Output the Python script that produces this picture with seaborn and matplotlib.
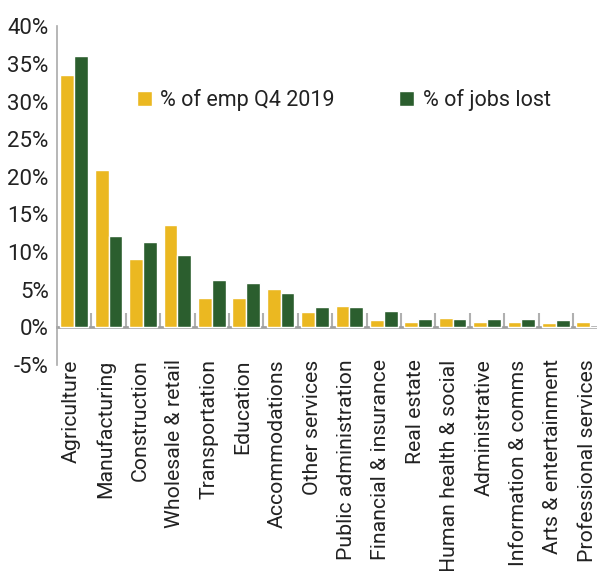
import matplotlib
matplotlib.use("Agg")
import matplotlib.pyplot as plt
import matplotlib.transforms as mtransforms
import seaborn as sns
import pandas as pd
import numpy as np

categories = ["Agriculture", "Manufacturing", "Construction", "Wholesale & retail",
              "Transportation", "Education", "Accommodations", "Other services",
              "Public administration", "Financial & insurance", "Real estate",
              "Human health & social", "Administrative", "Information & comms",
              "Arts & entertainment", "Professional services"]
emp_q4_2019 = [33.5, 20.9, 9.1, 13.6, 3.9, 3.9, 5.1, 2.0, 2.8, 0.9, 0.7, 1.2, 0.7, 0.7, 0.5, 0.7]
jobs_lost = [36.0, 12.1, 11.3, 9.6, 6.3, 5.9, 4.5, 2.7, 2.7, 2.1, 1.1, 1.1, 1.1, 1.1, 0.9, 0.0]
series_names = ["% of emp Q4 2019", "% of jobs lost"]
yticks = [-5, 0, 5, 10, 15, 20, 25, 30, 35, 40]

df = pd.DataFrame({
    "cat": categories * 2,
    "val": emp_q4_2019 + jobs_lost,
    "series": [series_names[0]] * len(categories) + [series_names[1]] * len(categories),
})

sns.set_style("white")
plt.rcParams["font.family"] = ["Roboto", "DejaVu Sans"]

fig = plt.figure(figsize=(5.97, 5.71), dpi=100)
ax = fig.add_axes([0.0955, 0.361, 0.922, 0.593])
palette = {series_names[0]: "#EBB821", series_names[1]: "#2B5E2E"}
sns.barplot(data=df, x="cat", y="val", hue="series", palette=palette,
            width=0.8, gap=0, saturation=1, ax=ax, order=categories)

n = len(categories)
ax.set_xlim(-0.5, n - 0.5)
ax.set_ylim(-5, 40)
ax.set_yticks(yticks)
ax.set_yticklabels([f"{t}%" for t in yticks], fontsize=16, color="#222222")
ax.set_xticks(range(n))
ax.set_xticklabels(categories, rotation=90, fontsize=15.3, color="#222222")
ax.tick_params(axis="x", length=0, pad=-4)
ax.tick_params(axis="y", length=0, pad=6)
offset = mtransforms.ScaledTranslation(-3 / 100, 0, fig.dpi_scale_trans)
for lbl in ax.get_xticklabels():
    lbl.set_transform(lbl.get_transform() + offset)
ax.set_xlabel("")
ax.set_ylabel("")
for s in ["top", "right", "bottom"]:
    ax.spines[s].set_visible(False)
ax.spines["left"].set_color("#aaaaaa")
ax.spines["left"].set_linewidth(1.2)

sec = ax.secondary_xaxis(5 / 45)
sec.set_xticks(np.arange(n) + 0.5)
sec.set_xticklabels([])
sec.tick_params(direction="in", length=10, width=1.5, color="#b0b0b0")
sec.spines["bottom"].set_color("#a0a0a0")
sec.spines["bottom"].set_linewidth(2)

leg = ax.legend(loc="center", bbox_to_anchor=(0.576, 0.825), bbox_transform=fig.transFigure,
                ncol=2, frameon=False, fontsize=15.5, handlelength=0.7, handleheight=0.7,
                columnspacing=3.0, handletextpad=0.4)
for t in leg.get_texts():
    t.set_color("#222222")

fig.savefig("out.png", dpi=100)
